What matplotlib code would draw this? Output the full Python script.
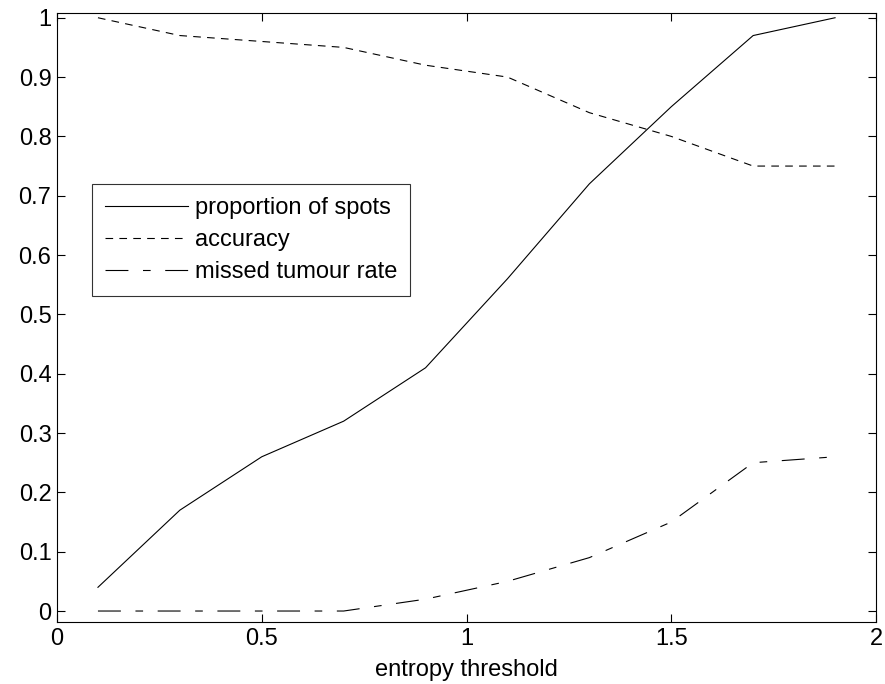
import matplotlib
matplotlib.use('Agg')
import matplotlib.pyplot as plt

plt.rcParams['font.family'] = ['Liberation Sans', 'DejaVu Sans']
plt.rcParams['lines.scale_dashes'] = False

thresholds = [0.1, 0.3, 0.5, 0.7, 0.9, 1.1, 1.3, 1.5, 1.7, 1.9]
proportion_of_spots = [0.04, 0.17, 0.26, 0.32, 0.41, 0.56, 0.72, 0.85, 0.97, 1.0]
accuracy = [1.0, 0.97, 0.96, 0.95, 0.92, 0.90, 0.84, 0.80, 0.75, 0.75]
missed_tumour_rate = [0.0, 0.0, 0.0, 0.0, 0.02, 0.05, 0.09, 0.15, 0.25, 0.26]

x_ticks = [0, 0.5, 1, 1.5, 2]
x_tick_labels = ['0', '0.5', '1', '1.5', '2']
y_ticks = [i / 10 for i in range(11)]
y_tick_labels = ['0'] + [f'0.{i}' for i in range(1, 10)] + ['1']

fig = plt.figure(figsize=(8.85, 6.84), dpi=100)
ax = fig.add_axes([57 / 885, 62 / 684, 819 / 885, 609 / 684])

ax.plot(thresholds, proportion_of_spots, color='black', linewidth=0.8,
        linestyle='-', label='proportion of spots')
ax.plot(thresholds, accuracy, color='black', linewidth=0.8,
        linestyle=(0, (5.5, 4.5)), label='accuracy')
ax.plot(thresholds, missed_tumour_rate, color='black', linewidth=0.8,
        linestyle=(0, (16.5, 10.5, 5.5, 10.5)), label='missed tumour rate')

ax.set_xlim(0, 2)
ax.set_ylim(-0.0185, 1.008)
ax.set_xticks(x_ticks)
ax.set_xticklabels(x_tick_labels)
ax.set_yticks(y_ticks)
ax.set_yticklabels(y_tick_labels)
ax.tick_params(direction='in', top=True, right=True, length=5.5, width=0.8,
               labelsize=17, pad=4)
for spine in ax.spines.values():
    spine.set_linewidth(0.8)

ax.set_xlabel('entropy threshold', fontsize=17, labelpad=7)

leg = ax.legend(loc='upper left', bbox_to_anchor=(0.043, 0.719), fontsize=17,
                frameon=True, fancybox=False, edgecolor='black',
                handlelength=3.5, borderaxespad=0, labelspacing=0.42,
                handletextpad=0.3, borderpad=0.55)
leg.get_frame().set_linewidth(0.8)

fig.savefig('out.png', dpi=100)
